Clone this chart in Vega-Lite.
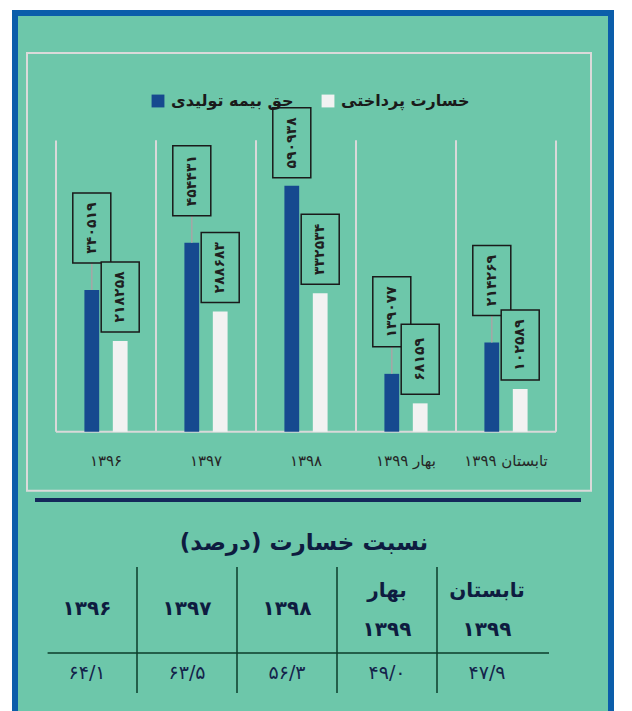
{
  "$schema": "https://vega.github.io/schema/vega-lite/v6.json",
  "width": 596,
  "height": 705,
  "autosize": {"type": "none"},
  "padding": {"left": 15, "top": 13, "right": 21, "bottom": -7},
  "background": "#FFFFFF",
  "view": {"fill": "#6DC7AA", "stroke": "#0B5DAA", "strokeWidth": 6},
  "config": {
    "font": "DejaVu Sans",
    "axis": {"disable": true},
    "locale": {
      "number": {
        "decimal": "/",
        "thousands": ",",
        "grouping": [3],
        "currency": ["", ""],
        "numerals": ["۰", "۱", "۲", "۳", "۴", "۵", "۶", "۷", "۸", "۹"]
      }
    }
  },
  "datasets": {
    "bars": [
      {"cat": "۱۳۹۶", "series": "حق بیمه تولیدی", "value": 340519},
      {"cat": "۱۳۹۷", "series": "حق بیمه تولیدی", "value": 454431},
      {"cat": "۱۳۹۸", "series": "حق بیمه تولیدی", "value": 590938},
      {"cat": "بهار ۱۳۹۹", "series": "حق بیمه تولیدی", "value": 139077},
      {"cat": "تابستان ۱۳۹۹", "series": "حق بیمه تولیدی", "value": 214269},
      {"cat": "۱۳۹۶", "series": "خسارت پرداختی", "value": 218258},
      {"cat": "۱۳۹۷", "series": "خسارت پرداختی", "value": 288683},
      {"cat": "۱۳۹۸", "series": "خسارت پرداختی", "value": 332534},
      {"cat": "بهار ۱۳۹۹", "series": "خسارت پرداختی", "value": 68159},
      {"cat": "تابستان ۱۳۹۹", "series": "خسارت پرداختی", "value": 102589}
    ],
    "ratio": [
      {"cat": "۱۳۹۶", "head1": "", "head2": "۱۳۹۶", "ratio": 64.1},
      {"cat": "۱۳۹۷", "head1": "", "head2": "۱۳۹۷", "ratio": 63.5},
      {"cat": "۱۳۹۸", "head1": "", "head2": "۱۳۹۸", "ratio": 56.3},
      {"cat": "بهار ۱۳۹۹", "head1": "بهار", "head2": "۱۳۹۹", "ratio": 49.0},
      {"cat": "تابستان ۱۳۹۹", "head1": "تابستان", "head2": "۱۳۹۹", "ratio": 47.9}
    ],
    "title": [{"t": "نسبت خسارت (درصد)"}]
  },
  "layer": [
    {
      "layer": [
        {
          "data": {"name": "bars"},
          "transform": [{"filter": "datum.series == 'حق بیمه تولیدی'"}],
          "mark": {"type": "rule", "color": "#D9D9D9", "strokeWidth": 2},
          "encoding": {
            "x": {"field": "cat", "type": "nominal", "bandPosition": 0, "axis": null,
              "scale": {"type": "band", "domain": ["۱۳۹۶", "۱۳۹۷", "۱۳۹۸", "بهار ۱۳۹۹", "تابستان ۱۳۹۹"], "range": [41, 541], "paddingInner": 0, "paddingOuter": 0}},
            "y": {"datum": 0, "type": "quantitative", "axis": null,
              "scale": {"domain": [0, 700000], "range": [418.7, 127.5], "nice": false, "zero": false}},
            "y2": {"datum": 700000}
          }
        },
        {
          "data": {"name": "bars"},
          "transform": [{"filter": "datum.series == 'حق بیمه تولیدی'"}],
          "mark": {"type": "rule", "color": "#D9D9D9", "strokeWidth": 2},
          "encoding": {
            "x": {"field": "cat", "type": "nominal", "bandPosition": 1},
            "y": {"datum": 0, "type": "quantitative"},
            "y2": {"datum": 700000}
          }
        },
        {
          "data": {"values": [{}]},
          "mark": {"type": "rule", "color": "#D9D9D9", "strokeWidth": 2},
          "encoding": {
            "x": {"datum": "۱۳۹۶", "type": "nominal", "bandPosition": 0},
            "x2": {"datum": "تابستان ۱۳۹۹", "bandPosition": 1},
            "y": {"datum": 0, "type": "quantitative"}
          }
        },
        {
          "data": {"values": [{}]},
          "mark": {"type": "rect", "fill": "#6DC7AA", "fillOpacity": 0, "stroke": "#DADADA", "strokeWidth": 2},
          "encoding": {
            "x": {"datum": "۱۳۹۶", "type": "nominal", "bandPosition": -0.29},
            "x2": {"datum": "تابستان ۱۳۹۹", "bandPosition": 1.35},
            "y": {"datum": 910300, "type": "quantitative"},
            "y2": {"datum": -141800}
          }
        },
        {
          "data": {"values": [{}]},
          "mark": {"type": "rule", "color": "#14285A", "strokeWidth": 4},
          "encoding": {
            "x": {"datum": "۱۳۹۶", "type": "nominal", "bandPosition": -0.21},
            "x2": {"datum": "تابستان ۱۳۹۹", "bandPosition": 1.25},
            "y": {"datum": -164200, "type": "quantitative"}
          }
        },
        {
          "data": {"name": "bars"},
          "mark": {"type": "bar"},
          "encoding": {
            "x": {"field": "cat", "type": "nominal"},
            "xOffset": {"field": "series", "type": "nominal",
              "scale": {"domain": ["حق بیمه تولیدی", "خسارت پرداختی"], "paddingInner": 0.48, "paddingOuter": 1.2}},
            "y": {"field": "value", "type": "quantitative"},
            "color": {"field": "series", "type": "nominal",
              "scale": {"domain": ["حق بیمه تولیدی", "خسارت پرداختی"], "range": ["#16498F", "#F2F2F2"]},
              "legend": {"orient": "none", "legendX": 135, "legendY": 80, "direction": "horizontal", "title": null,
                "symbolType": "square", "symbolSize": 165, "symbolStrokeWidth": 0,
                "labelFont": "DejaVu Sans", "labelFontSize": 16, "labelFontWeight": "bold", "labelColor": "#1A1A1A",
                "labelOffset": 5, "columnPadding": 26}}
          }
        },
        {
          "data": {"name": "bars"},
          "transform": [
            {"joinaggregate": [{"op": "min", "field": "value", "as": "minv"}], "groupby": ["cat"]},
            {"filter": "datum.series == 'حق بیمه تولیدی' && datum.value - datum.minv <= 200000"}
          ],
          "layer": [
            {
              "mark": {"type": "rule", "color": "#A6A6A6", "strokeWidth": 1.5, "y2Offset": -27},
              "encoding": {
                "x": {"field": "cat", "type": "nominal"},
                "xOffset": {"field": "series", "type": "nominal"},
                "y": {"field": "value", "type": "quantitative"},
                "y2": {"field": "value"}
              }
            },
            {
              "mark": {"type": "point", "shape": "M-0.543,-1H0.543V1H-0.543Z", "size": 4900, "filled": true,
                "fill": "#6DC7AA", "stroke": "#1A1A1A", "strokeWidth": 1.5, "opacity": 1, "yOffset": -62},
              "encoding": {
                "x": {"field": "cat", "type": "nominal"},
                "xOffset": {"field": "series", "type": "nominal"},
                "y": {"field": "value", "type": "quantitative"}
              }
            },
            {
              "mark": {"type": "text", "angle": 270, "align": "center", "baseline": "middle", "fontSize": 14,
                "fontWeight": "bold", "color": "#1F1F1F", "font": "DejaVu Sans", "yOffset": -62},
              "encoding": {
                "x": {"field": "cat", "type": "nominal"},
                "xOffset": {"field": "series", "type": "nominal"},
                "y": {"field": "value", "type": "quantitative"},
                "text": {"field": "value", "type": "quantitative", "format": "d"}
              }
            }
          ]
        },
        {
          "data": {"name": "bars"},
          "transform": [
            {"joinaggregate": [{"op": "min", "field": "value", "as": "minv"}], "groupby": ["cat"]},
            {"filter": "datum.series == 'حق بیمه تولیدی' && datum.value - datum.minv > 200000"}
          ],
          "layer": [
            {
              "mark": {"type": "point", "shape": "M-0.543,-1H0.543V1H-0.543Z", "size": 4900, "filled": true,
                "fill": "#6DC7AA", "stroke": "#1A1A1A", "strokeWidth": 1.5, "opacity": 1, "yOffset": -43},
              "encoding": {
                "x": {"field": "cat", "type": "nominal"},
                "xOffset": {"field": "series", "type": "nominal"},
                "y": {"field": "value", "type": "quantitative"}
              }
            },
            {
              "mark": {"type": "text", "angle": 270, "align": "center", "baseline": "middle", "fontSize": 14,
                "fontWeight": "bold", "color": "#1F1F1F", "font": "DejaVu Sans", "yOffset": -43},
              "encoding": {
                "x": {"field": "cat", "type": "nominal"},
                "xOffset": {"field": "series", "type": "nominal"},
                "y": {"field": "value", "type": "quantitative"},
                "text": {"field": "value", "type": "quantitative", "format": "d"}
              }
            }
          ]
        },
        {
          "data": {"name": "bars"},
          "transform": [{"filter": "datum.series == 'خسارت پرداختی'"}],
          "layer": [
            {
              "mark": {"type": "point", "shape": "M-0.543,-1H0.543V1H-0.543Z", "size": 4900, "filled": true,
                "fill": "#6DC7AA", "stroke": "#1A1A1A", "strokeWidth": 1.5, "opacity": 1, "yOffset": -44},
              "encoding": {
                "x": {"field": "cat", "type": "nominal"},
                "xOffset": {"field": "series", "type": "nominal"},
                "y": {"field": "value", "type": "quantitative"}
              }
            },
            {
              "mark": {"type": "text", "angle": 270, "align": "center", "baseline": "middle", "fontSize": 14,
                "fontWeight": "bold", "color": "#1F1F1F", "font": "DejaVu Sans", "yOffset": -44},
              "encoding": {
                "x": {"field": "cat", "type": "nominal"},
                "xOffset": {"field": "series", "type": "nominal"},
                "y": {"field": "value", "type": "quantitative"},
                "text": {"field": "value", "type": "quantitative", "format": "d"}
              }
            }
          ]
        },
        {
          "data": {"name": "bars"},
          "transform": [{"filter": "datum.series == 'حق بیمه تولیدی'"}],
          "mark": {"type": "text", "align": "center", "baseline": "middle", "fontSize": 15, "color": "#262626",
            "font": "DejaVu Sans", "yOffset": 29},
          "encoding": {
            "x": {"field": "cat", "type": "nominal"},
            "y": {"datum": 0, "type": "quantitative"},
            "text": {"field": "cat", "type": "nominal"}
          }
        }
      ]
    },
    {
      "layer": [
        {
          "data": {"name": "title"},
          "mark": {"type": "text", "align": "center", "baseline": "middle", "fontSize": 23, "fontWeight": "bold",
            "color": "#0E1C40", "font": "DejaVu Sans"},
          "encoding": {
            "x": {"datum": "۱۳۹۸", "type": "nominal", "bandPosition": 0.67, "axis": null,
              "scale": {"type": "band", "domain": ["۱۳۹۶", "۱۳۹۷", "۱۳۹۸", "بهار ۱۳۹۹", "تابستان ۱۳۹۹"], "range": [22, 522], "paddingInner": 0, "paddingOuter": 0}},
            "y": {"datum": "title", "type": "nominal", "axis": null,
              "scale": {"type": "point", "domain": ["title", "header", "value"], "range": [530, 660], "padding": 0}},
            "text": {"field": "t", "type": "nominal"}
          }
        },
        {
          "data": {"name": "ratio"},
          "transform": [{"filter": "datum.head1 != ''"}],
          "mark": {"type": "text", "align": "center", "baseline": "middle", "fontSize": 20, "fontWeight": "bold",
            "color": "#0E1C40", "font": "DejaVu Sans", "yOffset": -17},
          "encoding": {
            "x": {"field": "cat", "type": "nominal"},
            "y": {"datum": "header", "type": "nominal"},
            "text": {"field": "head1", "type": "nominal"}
          }
        },
        {
          "data": {"name": "ratio"},
          "transform": [{"filter": "datum.head1 != ''"}],
          "mark": {"type": "text", "align": "center", "baseline": "middle", "fontSize": 20, "fontWeight": "bold",
            "color": "#0E1C40", "font": "DejaVu Sans", "yOffset": 22},
          "encoding": {
            "x": {"field": "cat", "type": "nominal"},
            "y": {"datum": "header", "type": "nominal"},
            "text": {"field": "head2", "type": "nominal"}
          }
        },
        {
          "data": {"name": "ratio"},
          "transform": [{"filter": "datum.head1 == ''"}],
          "mark": {"type": "text", "align": "center", "baseline": "middle", "fontSize": 20, "fontWeight": "bold",
            "color": "#0E1C40", "font": "DejaVu Sans", "yOffset": 1},
          "encoding": {
            "x": {"field": "cat", "type": "nominal"},
            "y": {"datum": "header", "type": "nominal"},
            "text": {"field": "head2", "type": "nominal"}
          }
        },
        {
          "data": {"name": "ratio"},
          "mark": {"type": "text", "align": "center", "baseline": "middle", "fontSize": 19,
            "color": "#14234B", "font": "DejaVu Sans"},
          "encoding": {
            "x": {"field": "cat", "type": "nominal"},
            "y": {"datum": "value", "type": "nominal"},
            "text": {"field": "ratio", "type": "quantitative", "format": ".1f"}
          }
        },
        {
          "data": {"name": "ratio"},
          "transform": [{"filter": "datum.cat != '۱۳۹۶'"}],
          "mark": {"type": "rule", "color": "#0B3D2A", "strokeWidth": 1.5, "yOffset": -41, "y2Offset": 20},
          "encoding": {
            "x": {"field": "cat", "type": "nominal", "bandPosition": 0},
            "y": {"datum": "header", "type": "nominal"},
            "y2": {"datum": "value"}
          }
        },
        {
          "data": {"values": [{}]},
          "mark": {"type": "rule", "color": "#0B3D2A", "strokeWidth": 1.5, "yOffset": -20},
          "encoding": {
            "x": {"datum": "۱۳۹۶", "type": "nominal", "bandPosition": 0.106},
            "x2": {"datum": "تابستان ۱۳۹۹", "bandPosition": 1.12},
            "y": {"datum": "value", "type": "nominal"}
          }
        }
      ]
    }
  ],
  "resolve": {"scale": {"x": "independent", "y": "independent", "color": "independent"}}
}
